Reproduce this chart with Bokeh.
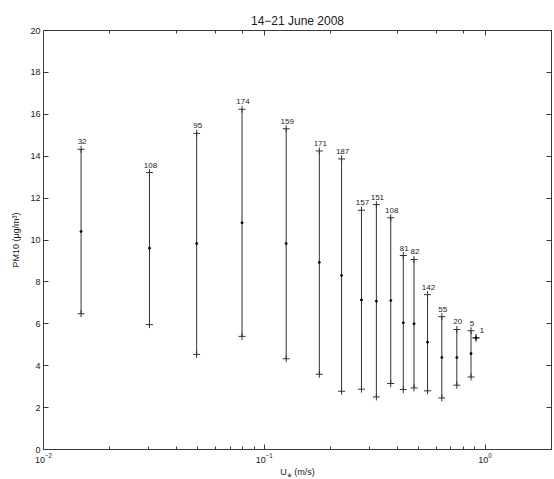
from bokeh.plotting import figure
from bokeh.models import (Range1d, LogAxis, LinearAxis, FixedTicker, ColumnDataSource,
                          LabelSet)
from bokeh.core.properties import value
from bokeh.embed import file_html
from bokeh.resources import INLINE

# ---- data ----
ustar = [0.0148, 0.0302, 0.0494, 0.0793, 0.1257, 0.1776, 0.2239, 0.2756, 0.322,
         0.374, 0.4263, 0.4767, 0.549, 0.637, 0.745, 0.864, 0.91]
pm_mean = [10.41, 9.61, 9.83, 10.82, 9.83, 8.93, 8.31, 7.14, 7.08, 7.11, 6.05,
           6.00, 5.12, 4.39, 4.39, 4.58, 5.33]
pm_upper = [14.33, 13.22, 15.09, 16.24, 15.31, 14.25, 13.87, 11.42, 11.69, 11.06,
            9.26, 9.07, 7.39, 6.34, 5.73, 5.67, 5.33]
pm_lower = [6.48, 5.96, 4.54, 5.40, 4.33, 3.59, 2.78, 2.88, 2.51, 3.15, 2.86,
            2.94, 2.80, 2.46, 3.07, 3.46, 5.33]
counts = [32, 108, 95, 174, 159, 171, 187, 157, 151, 108, 81, 82, 142, 55, 20, 5, 1]
y_ticks = list(range(0, 21, 2))

FONT = "Liberation Sans"
AX = "#3a3a3a"
TXT = "#1a1a1a"

src = ColumnDataSource(dict(
    x=ustar, m=pm_mean, up=pm_upper, lo=pm_lower,
    n=[str(c) for c in counts],
    xoff=[6 if c == 1 else 1 for c in counts],
))

p = figure(width=554, height=479, x_axis_type="log",
           x_range=Range1d(0.01, 2), y_range=Range1d(0, 20),
           output_backend="svg", toolbar_location=None,
           min_border_left=43, min_border_right=3,
           min_border_top=30, min_border_bottom=27,
           title="14\u221221 June 2008")
p.background_fill_color = "white"
p.border_fill_color = "white"
p.grid.visible = False
p.outline_line_color = AX

p.title.align = "center"
p.title.text_font = FONT
p.title.text_font_style = "normal"
p.title.text_font_size = "12px"
p.title.text_color = TXT
p.title.standoff = 6

# error bars
p.segment(x0="x", y0="lo", x1="x", y1="up", source=src, line_color="#333333", line_width=1)
p.scatter(x="x", y="up", source=src, marker="cross", size=7, line_color="#333333", line_width=1)
p.scatter(x="x", y="lo", source=src, marker="cross", size=7, line_color="#333333", line_width=1)
p.scatter(x="x", y="m", source=src, marker="circle", size=2, fill_color="black", line_color="black")

labels = LabelSet(x="x", y="up", text="n", source=src, x_offset="xoff", y_offset=5,
                  text_align="center", text_baseline="bottom",
                  text_font=value(FONT), text_font_size=value("8px"),
                  text_color=value(TXT))
p.add_layout(labels)

def style_axis(ax):
    ax.axis_line_color = AX
    ax.major_tick_line_color = AX
    ax.minor_tick_line_color = AX
    ax.major_tick_in = 5
    ax.major_tick_out = 0
    ax.minor_tick_in = 3
    ax.minor_tick_out = 0
    ax.major_label_text_font = FONT
    ax.major_label_text_font_size = "9px"
    ax.major_label_text_color = TXT
    ax.axis_label_text_font = FONT
    ax.axis_label_text_font_size = "9px"
    ax.axis_label_text_font_style = "normal"
    ax.axis_label_text_color = TXT

xa = p.xaxis[0]
style_axis(xa)
xa.axis_label = "U\u204E (m/s)"
xa.major_label_standoff = 3
xa.axis_label_standoff = 1

ya = p.yaxis[0]
style_axis(ya)
ya.ticker = FixedTicker(ticks=y_ticks)
ya.axis_label = "PM10 (\u03bcg/m\u00b3)"
ya.major_label_standoff = 3
ya.axis_label_standoff = 6
ya.minor_tick_in = 0

top = LogAxis()
style_axis(top)
top.major_label_text_font_size = "1px"
top.major_label_text_color = None
top.major_label_standoff = 0
p.add_layout(top, "above")

right = LinearAxis(ticker=FixedTicker(ticks=y_ticks))
style_axis(right)
right.minor_tick_in = 0
right.major_label_text_font_size = "1px"
right.major_label_text_color = None
right.major_label_standoff = 0
p.add_layout(right, "right")

open("out.html", "w").write(file_html(p, INLINE))
